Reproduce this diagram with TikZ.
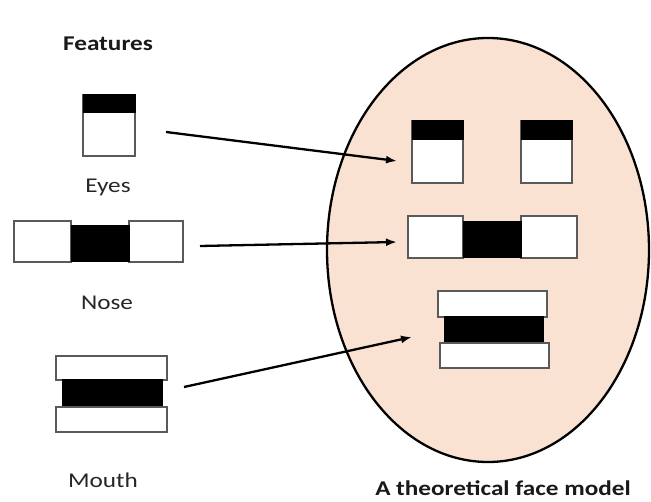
\documentclass[tikz,border=0pt]{standalone}
\usepackage{fontspec}
\setmainfont{Carlito}
\usetikzlibrary{arrows.meta}
\definecolor{skin}{RGB}{250,226,211}
\definecolor{edgegray}{RGB}{90,90,90}
\tikzset{
  wbox/.style={draw=edgegray, line width=1.5pt, fill=white},
  bbox/.style={draw=black, line width=1pt, fill=black},
  lbl/.style={font=\fontsize{21}{24}\selectfont, text=black!85, inner sep=0pt},
  ttl/.style={font=\fontsize{21}{24}\selectfont\bfseries, text=black!90, inner sep=0pt},
  conn/.style={line width=2.3pt, -{Latex[length=11pt,width=8pt]}},
}
\newcommand{\wide}[1]{\scalebox{1.2}[1]{#1}}
\begin{document}
\begin{tikzpicture}[x=1pt,y=-1pt]
\useasboundingbox (0,0) rectangle (651,502);
% face
\draw[fill=skin, line width=2.3pt] (488,250) ellipse [x radius=161, y radius=212];
% labels
\node[ttl] (tfeat) at (108,44) {\wide{Features}};
\node[lbl] (teyes) at (108,187) {\wide{Eyes}};
\node[lbl] (tnose) at (107,303) {\wide{Nose}};
\node[lbl] (tmouth) at (103,480) {\wide{Mouth}};
\node[ttl] (tface) at (503,488) {\wide{A theoretical face model}};
% feature: eye
\draw[wbox] (83,95) rectangle (135,156);
\draw[bbox] (83,95) rectangle (135,113);
% feature: nose
\draw[wbox] (14,221) rectangle (71,262);
\draw[wbox] (129,221) rectangle (183,262);
\draw[bbox] (71,226) rectangle (129,262);
% feature: mouth
\draw[wbox] (56,356) rectangle (167,380);
\draw[bbox] (62,380) rectangle (162,407);
\draw[wbox] (56,407) rectangle (167,432);
% face: eyes
\draw[wbox] (412,121) rectangle (463,183);
\draw[bbox] (412,121) rectangle (463,140);
\draw[wbox] (521,121) rectangle (572,183);
\draw[bbox] (521,121) rectangle (572,140);
% face: nose
\draw[wbox] (408,216) rectangle (463,258);
\draw[wbox] (521,216) rectangle (577,258);
\draw[bbox] (463,222) rectangle (521,258);
% face: mouth
\draw[wbox] (438,291) rectangle (547,317);
\draw[bbox] (444,317) rectangle (543,343);
\draw[wbox] (440,343) rectangle (549,368);
% connectors
\coordinate (eyeS) at (166,132);
\coordinate (eyeE) at (397,161);
\coordinate (noseS) at (200,246);
\coordinate (noseE) at (397,242);
\coordinate (mouthS) at (184,387);
\coordinate (mouthE) at (412,337);
\draw[conn] (eyeS) -- (eyeE);
\draw[conn] (noseS) -- (noseE);
\draw[conn] (mouthS) -- (mouthE);
\end{tikzpicture}
\end{document}
